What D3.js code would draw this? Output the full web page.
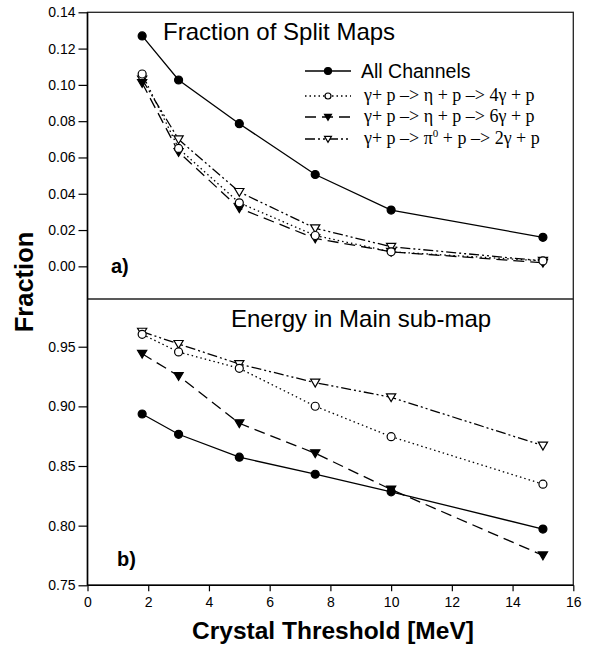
<!DOCTYPE html>
<html>
<head>
<meta charset="utf-8">
<script src="https://cdn.jsdelivr.net/npm/d3@7"></script>
<style>
  body { margin: 0; background: #fff; }
  svg { display: block; }
</style>
</head>
<body>
<div id="chart"></div>
<script>
// crystal threshold in MeV
const thresholds = [1.8, 3, 5, 7.5, 10, 15];

// panel a) fraction of split maps
const splitAll  = [0.127, 0.1027, 0.0786, 0.0506, 0.031, 0.016];
const splitEta4 = [0.106, 0.065, 0.035, 0.017, 0.008, 0.003];
const splitEta6 = [0.101, 0.063, 0.032, 0.0154, 0.008, 0.002];
const splitPi0  = [0.103, 0.070, 0.041, 0.021, 0.0108, 0.003];

// panel b) energy in main sub-map
const energyAll  = [0.8936, 0.8766, 0.8574, 0.8431, 0.8284, 0.7971];
const energyEta4 = [0.9604, 0.9456, 0.9319, 0.9001, 0.8746, 0.8348];
const energyEta6 = [0.9441, 0.9255, 0.8858, 0.8607, 0.8303, 0.7751];
const energyPi0  = [0.9626, 0.9523, 0.9355, 0.9199, 0.9076, 0.8671];

const xTicks = [0, 2, 4, 6, 8, 10, 12, 14, 16];
const yTicksA = [0, 0.02, 0.04, 0.06, 0.08, 0.10, 0.12, 0.14];
const yTicksB = [0.75, 0.80, 0.85, 0.90, 0.95];

const width = 591, height = 652;
const left = 87.5, right = 573.3;
const topA = 12.3, bottomA = 299, bottomB = 585.3;

const svg = d3.select("#chart").append("svg")
  .attr("width", width)
  .attr("height", height)
  .style("font-family", "'Liberation Sans', Arial, sans-serif");

let x = d3.scaleLinear().domain([0, 16]).range([left, right]);
let yA = d3.scaleLinear().domain([-0.018, 0.14]).range([bottomA, topA]);
let yB = d3.scaleLinear().domain([0.75, 0.99]).range([bottomB, bottomA]);

const styles = [
  {dash: null, marker: "circle", fill: "#000"},
  {dash: "1.5,3", marker: "circle", fill: "#fff"},
  {dash: "11,6", marker: "tdown", fill: "#000"},
  {dash: "10,3,2,3,2,3", marker: "tdown", fill: "#fff"}
];

const drawMarker = (g, kind, fill, cx, cy, size) => {
  if (kind === "circle") {
    g.append("circle")
      .attr("cx", cx).attr("cy", cy).attr("r", size)
      .style("fill", fill).style("stroke", "#000").style("stroke-width", 1.2);
  } else {
    let s = size * 1.15;
    g.append("path")
      .attr("d", `M${cx - s},${cy - s * 0.75}L${cx + s},${cy - s * 0.75}L${cx},${cy + s * 0.95}Z`)
      .style("fill", fill).style("stroke", "#000").style("stroke-width", 1.2);
  }
};

const drawPanel = (y, seriesList) => {
  let g = svg.append("g");
  let line = d3.line().x((d, i) => x(thresholds[i])).y(d => y(d));
  // draw in reverse so all channels sits on top
  seriesList.map((vals, k) => ({vals, k})).reverse().forEach(({vals, k}) => {
    let st = styles[k];
    g.append("path")
      .attr("d", line(vals))
      .style("fill", "none")
      .style("stroke", "#000")
      .style("stroke-width", 1.3)
      .style("stroke-dasharray", st.dash);
    vals.forEach((v, i) => drawMarker(g, st.marker, st.fill, x(thresholds[i]), y(v), 4));
  });
};

drawPanel(yA, [splitAll, splitEta4, splitEta6, splitPi0]);
drawPanel(yB, [energyAll, energyEta4, energyEta6, energyPi0]);

// frames
svg.append("rect")
  .attr("x", left).attr("y", topA)
  .attr("width", right - left).attr("height", bottomB - topA)
  .style("fill", "none").style("stroke", "#222").style("stroke-width", 1.3);
svg.append("line")
  .attr("x1", left).attr("x2", right).attr("y1", bottomA).attr("y2", bottomA)
  .style("stroke", "#222").style("stroke-width", 1.3);

// axes
let axisA = d3.axisLeft(yA).tickValues(yTicksA).tickFormat(d3.format(".2f")).tickSize(9).tickPadding(3);
svg.append("g").attr("transform", `translate(${left},0)`).call(axisA);
let axisB = d3.axisLeft(yB).tickValues(yTicksB).tickFormat(d3.format(".2f")).tickSize(9).tickPadding(3);
svg.append("g").attr("transform", `translate(${left},0)`).call(axisB);
let axisX = d3.axisBottom(x).tickValues(xTicks).tickFormat(d3.format("d")).tickSize(6).tickPadding(6);
svg.append("g").attr("transform", `translate(0,${bottomB})`).call(axisX);

svg.selectAll(".domain").remove();
svg.selectAll(".tick line").style("stroke", "#000").style("stroke-width", 1.2);
svg.selectAll(".tick text")
  .style("font-family", "'Liberation Sans', Arial, sans-serif")
  .style("font-size", "14px")
  .style("fill", "#000");
svg.append("line")
  .attr("x1", left).attr("x2", left).attr("y1", topA).attr("y2", bottomB)
  .style("stroke", "#000").style("stroke-width", 1.5);
svg.append("line")
  .attr("x1", left).attr("x2", right).attr("y1", bottomB).attr("y2", bottomB)
  .style("stroke", "#000").style("stroke-width", 1.5);

// panel titles and tags
svg.append("text").attr("x", 163).attr("y", 40)
  .style("font-size", "24px").text("Fraction of Split Maps");
svg.append("text").attr("x", 231).attr("y", 327)
  .style("font-size", "24px").text("Energy in Main sub-map");
svg.append("text").attr("x", 111).attr("y", 273)
  .style("font-size", "20px").style("font-weight", "bold").text("a)");
svg.append("text").attr("x", 117).attr("y", 566)
  .style("font-size", "20px").style("font-weight", "bold").text("b)");

// axis titles
svg.append("text")
  .attr("transform", "translate(33,282) rotate(-90)")
  .attr("text-anchor", "middle")
  .style("font-size", "25.5px").style("font-weight", "bold").text("Fraction");
svg.append("text")
  .attr("x", 333).attr("y", 639)
  .attr("text-anchor", "middle")
  .style("font-size", "24.5px").style("font-weight", "bold").text("Crystal Threshold [MeV]");

// legend
const legendRows = [71, 96, 117, 139];
const legend = svg.append("g");
legendRows.forEach((ly, k) => {
  let st = styles[k];
  legend.append("line")
    .attr("x1", 305).attr("x2", 351).attr("y1", ly).attr("y2", ly)
    .style("stroke", "#000").style("stroke-width", 1.3)
    .style("stroke-dasharray", st.dash);
  drawMarker(legend, st.marker, st.fill, 328, ly, k === 0 ? 3.5 : 3);
});
legend.append("text").attr("x", 361).attr("y", 77.5)
  .style("font-size", "19.5px").text("All Channels");

const serif = "'Liberation Serif', 'Times New Roman', serif";
const reactions = [
  ["γ+ p –> η + p –> 4γ + p"],
  ["γ+ p –> η + p –> 6γ + p"],
  ["γ+ p –> π", "0", " + p –> 2γ + p"]
];
reactions.forEach((parts, j) => {
  let t = legend.append("text")
    .attr("x", 364).attr("y", legendRows[j + 1] + 5)
    .style("font-family", serif).style("font-size", "18px");
  t.append("tspan").text(parts[0]);
  if (parts.length > 1) {
    t.append("tspan").attr("dy", -7).style("font-size", "11px").text(parts[1]);
    t.append("tspan").attr("dy", 7).text(parts[2]);
  }
});
</script>
</body>
</html>
